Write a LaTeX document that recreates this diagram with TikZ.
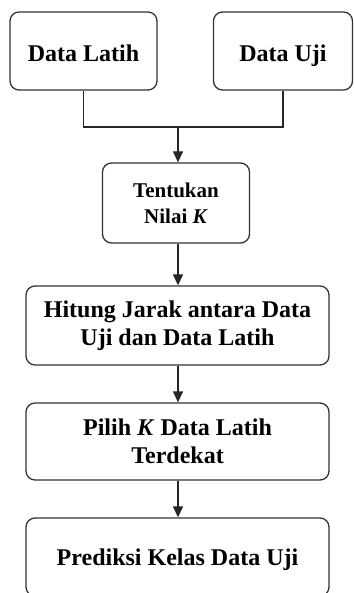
\documentclass[tikz,border=0pt]{standalone}
\usepackage{fontspec}
\setmainfont{Liberation Serif}
\usetikzlibrary{arrows.meta}
\newcommand{\oneline}[2]{\raisebox{#1}[0.7em][0pt]{#2}}
\begin{document}
\begin{tikzpicture}[x=1pt,y=-1pt,
  box/.style={draw=black!80, line width=1.3pt, rounded corners=9pt, align=center,
    font=\fontsize{24}{28}\selectfont\bfseries, inner sep=0pt},
  conn/.style={draw=black!85, line width=1.3pt},
  arr/.style={conn, -{Triangle[width=10pt,length=11pt]}}]
\useasboundingbox (0,0) rectangle (353,593);
\node[box, minimum width=147pt, minimum height=78pt] (L) at (83.5,51) {\oneline{-2.5pt}{Data Latih}};
\node[box, minimum width=139pt, minimum height=78pt] (U) at (283,51) {\oneline{-2.5pt}{Data Uji}};
\node[box, minimum width=147pt, minimum height=80pt, font=\fontsize{21}{26}\selectfont\bfseries] (T) at (176,203) {Tentukan\\Nilai \textit{K}};
\node[box, minimum width=303pt, minimum height=79pt] (H) at (177.5,325.5) {Hitung Jarak antara Data\\Uji dan Data Latih};
\node[box, minimum width=303pt, minimum height=77pt] (P) at (177.5,441.5) {Pilih \textit{K} Data Latih\\Terdekat};
\node[box, minimum width=303pt, minimum height=78pt] (R) at (177.5,557) {\oneline{0pt}{Prediksi Kelas Data Uji}};
\coordinate (j) at (178,127);
\draw[conn] (L.south) -- (L.south |- j) -- (U.south |- j) -- (U.south);
\draw[arr] (j) -- (j |- T.north);
\draw[arr] (j |- T.south) -- (j |- H.north);
\draw[arr] (j |- H.south) -- (j |- P.north);
\draw[arr] (j |- P.south) -- (j |- R.north);
\end{tikzpicture}
\end{document}
